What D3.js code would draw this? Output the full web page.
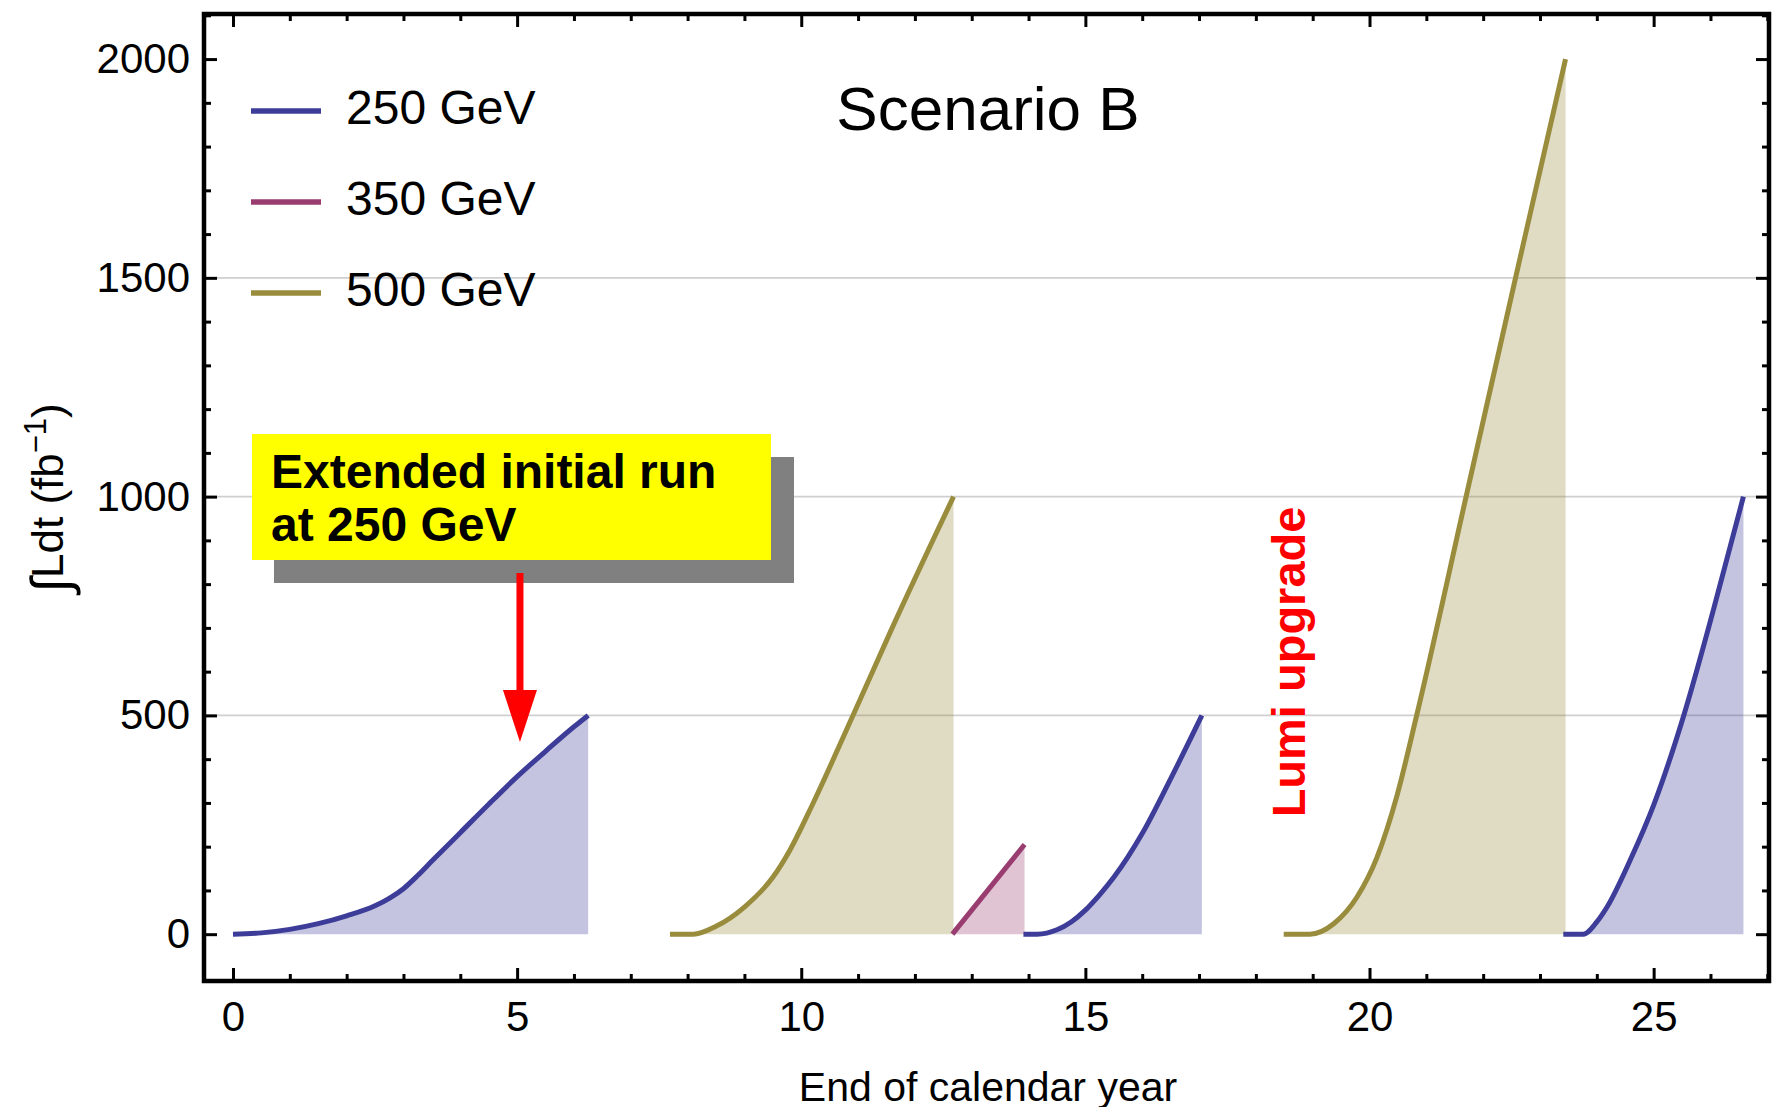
<!DOCTYPE html>
<html>
<head>
<meta charset="utf-8">
<script src="https://d3js.org/d3.v7.min.js"></script>
<style>
  body { margin: 0; background: #ffffff; }
  svg { display: block; }
  text { font-family: 'Liberation Sans', Arial, sans-serif; }
</style>
</head>
<body>
<div id="chart"></div>
<script>

  // energy stages shown in the legend
  var energies = ["250 GeV", "350 GeV", "500 GeV"];

  // integrated luminosity (fb^-1) at the end of each calendar year, one run at a time
  var run1Years = [0, 0.5, 1, 1.5, 2, 2.5, 2.75, 3, 3.25, 3.5, 4, 4.5, 5, 5.5, 6, 6.25];
  var run1Lumi  = [0, 3, 11, 24, 42, 65, 82, 104, 134, 167, 232, 297, 360, 418, 474, 500];

  var run2Years = [7.69, 8.1, 8.5, 9, 9.5, 9.8, 10.2, 10.9, 11.6, 12.68];
  var run2Lumi  = [0, 0, 18, 62, 130, 192, 297, 497, 700, 1000];

  var run3Years = [12.66, 13.93];
  var run3Lumi  = [0, 205];

  var run4Years = [13.91, 14.15, 14.5, 14.75, 15, 15.25, 15.5, 16, 16.5, 17.05];
  var run4Lumi  = [0, 0, 10, 28, 55, 90, 130, 230, 355, 500];

  var run5Years = [18.49, 18.95, 19.37, 19.78, 20.13, 20.48, 20.83, 21.7, 22.57, 23.45];
  var run5Lumi  = [0, 0, 24, 85, 175, 315, 500, 1000, 1500, 2000];

  var run6Years = [23.41, 23.76, 24.0, 24.18, 24.59, 25.0, 25.53, 26.06, 26.58];
  var run6Lumi  = [0, 0, 28, 62, 170, 295, 500, 745, 1000];

  var runEnergy = ["250 GeV", "500 GeV", "350 GeV", "250 GeV", "500 GeV", "250 GeV"];

  // axis ticks
  var xMajorTicks = [0, 5, 10, 15, 20, 25];
  var yMajorTicks = [0, 500, 1000, 1500, 2000];
  var gridValues = [500, 1000, 1500];

  var runs = [
    [run1Years, run1Lumi], [run2Years, run2Lumi], [run3Years, run3Lumi],
    [run4Years, run4Lumi], [run5Years, run5Lumi], [run6Years, run6Lumi]
  ].map(function (r, i) {
    return {
      energy: runEnergy[i],
      points: r[0].map(function (yr, j) { return { year: yr, lumi: r[1][j] }; })
    };
  });

  // plot frame (window.top is read-only, so no bare "top" here)
  var W = 1775, H = 1107;
  var frameL = 204, frameR = 1769, frameT = 14, frameB = 981;

  var color = d3.scaleOrdinal()
    .domain(energies)
    .range(["rgb(61,61,153)", "rgb(153,61,112)", "rgb(153,140,61)"]);

  var x = d3.scaleLinear().domain([-0.51, 27.03]).range([frameL, frameR]);
  var y = d3.scaleLinear().domain([-107, 2103]).range([frameB, frameT]);

  var svg = d3.select("#chart")
    .append("svg")
    .attr("width", W)
    .attr("height", H);

  svg.append("rect").attr("width", W).attr("height", H).attr("fill", "#ffffff");

  // gridlines
  svg.selectAll("gridline")
    .data(gridValues)
    .enter()
    .append("line")
    .attr("x1", frameL).attr("x2", frameR)
    .attr("y1", function (d) { return y(d); })
    .attr("y2", function (d) { return y(d); })
    .attr("stroke", "#cfcfcf")
    .attr("stroke-width", 1.6);

  // filled runs
  var area = d3.area()
    .x(function (d) { return x(d.year); })
    .y0(y(0))
    .y1(function (d) { return y(d.lumi); })
    .curve(d3.curveMonotoneX);

  var line = d3.line()
    .x(function (d) { return x(d.year); })
    .y(function (d) { return y(d.lumi); })
    .curve(d3.curveMonotoneX);

  svg.selectAll("runArea")
    .data(runs)
    .enter()
    .append("path")
    .attr("d", function (d) { return area(d.points); })
    .attr("fill", function (d) { return color(d.energy); })
    .attr("fill-opacity", 0.3);

  svg.selectAll("runLine")
    .data(runs)
    .enter()
    .append("path")
    .attr("d", function (d) { return line(d.points); })
    .attr("fill", "none")
    .attr("stroke", function (d) { return color(d.energy); })
    .attr("stroke-width", 5);

  // annotation box with shadow
  svg.append("rect")
    .attr("x", 274).attr("y", 457).attr("width", 520).attr("height", 126)
    .attr("fill", "#808080");
  svg.append("rect")
    .attr("x", 252).attr("y", 434).attr("width", 519).attr("height", 126)
    .attr("fill", "#ffff00");
  svg.append("text")
    .attr("x", 271).attr("y", 488)
    .style("font-size", "48px").style("font-weight", "bold")
    .text("Extended initial run");
  svg.append("text")
    .attr("x", 271).attr("y", 541)
    .style("font-size", "48px").style("font-weight", "bold")
    .text("at 250 GeV");

  // red arrow pointing at the first run
  svg.append("line")
    .attr("x1", x(5.05)).attr("x2", x(5.05))
    .attr("y1", 573).attr("y2", 695)
    .attr("stroke", "#ff0000").attr("stroke-width", 7);
  svg.append("path")
    .attr("d", "M" + (x(5.05) - 17) + ",690 L" + (x(5.05) + 17) + ",690 L" + x(5.05) + ",742 Z")
    .attr("fill", "#ff0000");

  // Lumi upgrade label
  svg.append("text")
    .attr("transform", "translate(1305,662) rotate(-90)")
    .attr("text-anchor", "middle")
    .style("font-size", "47px").style("font-weight", "bold")
    .attr("fill", "#ff0000")
    .text("Lumi upgrade");

  // legend
  var legend = svg.selectAll("legendItem")
    .data(energies)
    .enter()
    .append("g")
    .attr("transform", function (d, i) { return "translate(0," + (111 + i * 91) + ")"; });
  legend.append("line")
    .attr("x1", 251).attr("x2", 321).attr("y1", 0).attr("y2", 0)
    .attr("stroke", function (d) { return color(d); })
    .attr("stroke-width", 5.5);
  legend.append("text")
    .attr("x", 346).attr("y", 13)
    .style("font-size", "48px")
    .text(function (d) { return d; });

  // title
  svg.append("text")
    .attr("x", 988).attr("y", 130)
    .attr("text-anchor", "middle")
    .style("font-size", "62px")
    .text("Scenario B");

  // frame
  svg.append("rect")
    .attr("x", frameL).attr("y", frameT)
    .attr("width", frameR - frameL).attr("height", frameB - frameT)
    .attr("fill", "none")
    .attr("stroke", "#000").attr("stroke-width", 4.5);

  // axes: ticks point inward, majors longer
  var xMinor = d3.range(0, 28).filter(function (v) { return v % 5 !== 0; });
  var yMinor = d3.range(0, 2101, 100).filter(function (v) { return v % 500 !== 0; });

  function styleAxis(g) {
    g.select(".domain").remove();
    g.selectAll(".tick line").attr("stroke", "#000").attr("stroke-width", 3);
    g.selectAll(".tick text")
      .attr("fill", "#000")
      .style("font-family", "'Liberation Sans', Arial, sans-serif")
      .style("font-size", "42px");
  }

  svg.append("g").attr("transform", "translate(0," + frameB + ")")
    .call(d3.axisBottom(x).tickValues(xMinor).tickSize(-7).tickFormat(""))
    .call(styleAxis);
  svg.append("g").attr("transform", "translate(0," + frameB + ")")
    .call(d3.axisBottom(x).tickValues(xMajorTicks).tickSize(-13).tickPadding(20).tickFormat(d3.format("d")))
    .call(styleAxis);

  svg.append("g").attr("transform", "translate(0," + frameT + ")")
    .call(d3.axisTop(x).tickValues(xMinor).tickSize(-7).tickFormat(""))
    .call(styleAxis);
  svg.append("g").attr("transform", "translate(0," + frameT + ")")
    .call(d3.axisTop(x).tickValues(xMajorTicks).tickSize(-13).tickFormat(""))
    .call(styleAxis);

  svg.append("g").attr("transform", "translate(" + frameL + ",0)")
    .call(d3.axisLeft(y).tickValues(yMinor).tickSize(-7).tickFormat(""))
    .call(styleAxis);
  svg.append("g").attr("transform", "translate(" + frameL + ",0)")
    .call(d3.axisLeft(y).tickValues(yMajorTicks).tickSize(-13).tickPadding(14).tickFormat(d3.format("d")))
    .call(styleAxis);

  svg.append("g").attr("transform", "translate(" + frameR + ",0)")
    .call(d3.axisRight(y).tickValues(yMinor).tickSize(-7).tickFormat(""))
    .call(styleAxis);
  svg.append("g").attr("transform", "translate(" + frameR + ",0)")
    .call(d3.axisRight(y).tickValues(yMajorTicks).tickSize(-13).tickFormat(""))
    .call(styleAxis);

  // axis labels
  svg.append("text")
    .attr("x", 988).attr("y", 1101)
    .attr("text-anchor", "middle")
    .style("font-size", "41px")
    .text("End of calendar year");

  var yLabel = svg.append("text")
    .attr("transform", "translate(63,498) rotate(-90)")
    .attr("text-anchor", "middle")
    .style("font-size", "44px");
  yLabel.append("tspan").style("font-size", "54px").attr("dy", 6).text("\u222B");
  yLabel.append("tspan").attr("dy", -6).text("Ldt (fb");
  yLabel.append("tspan").attr("dy", -17).style("font-size", "31px").text("\u22121");
  yLabel.append("tspan").attr("dy", 17).text(")");

</script>
</body>
</html>
